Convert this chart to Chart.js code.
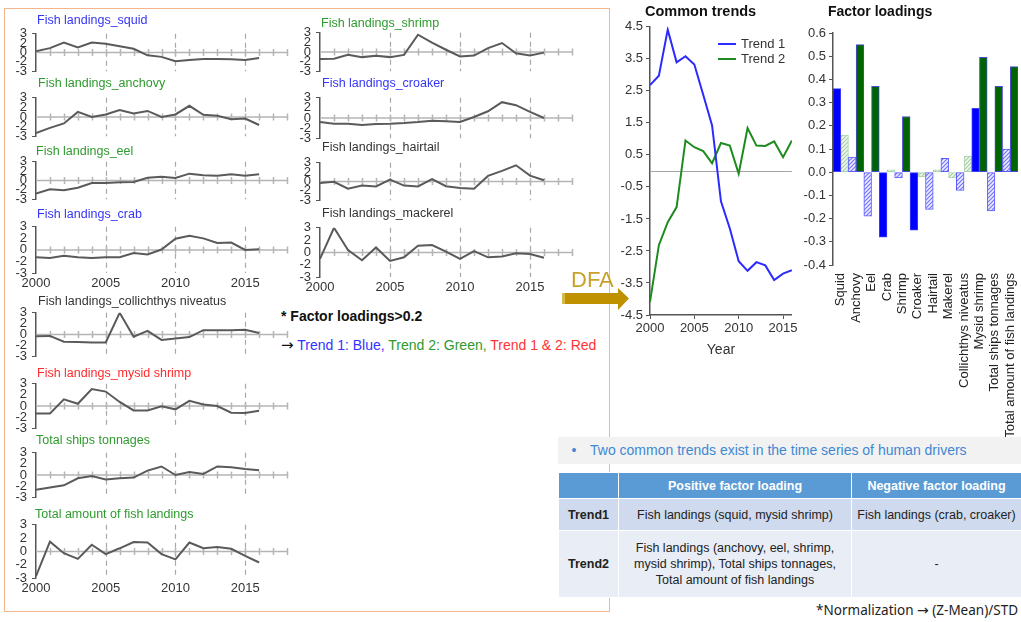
<!DOCTYPE html>
<html>
<head>
<meta charset="utf-8">
<script src="https://cdn.jsdelivr.net/npm/chart.js@4.4.1/dist/chart.umd.min.js"></script>
<style>
  html, body { margin: 0; padding: 0; background: #fff; }
  #stage { position: relative; width: 1021px; height: 622px; overflow: hidden;
           font-family: "Liberation Sans", Arial, sans-serif; color: #222; }
  #stage canvas { position: absolute; z-index: 1; }
  .frame { position: absolute; left: 4px; top: 8px; width: 606px; height: 604px;
           border: 1.5px solid #f5b58c; box-sizing: border-box; z-index: 0; }
  .ptitle { position: absolute; font-size: 12.5px; line-height: 14px; white-space: nowrap; z-index: 3; }
  .htitle { position: absolute; font-weight: bold; white-space: nowrap; color: #111; z-index: 3; }
  .note1 { position: absolute; left: 281px; top: 308px; font-size: 14px; font-weight: bold; color: #111; white-space: nowrap; }
  .note2 { position: absolute; left: 281px; top: 336px; font-size: 14px; white-space: nowrap; }
  .arr { font-family: "DejaVu Sans", sans-serif; font-size: 15px; }
  .legend { position: absolute; left: 718px; top: 36px; font-size: 13px; color: #333; z-index: 3; line-height: 15px; }
  .legend div { display: flex; align-items: center; height: 15px; }
  .legend i { display: inline-block; width: 18px; height: 2px; margin-right: 5px; }
  #banner { position: absolute; left: 558px; top: 437px; width: 463px; height: 27px; background: #f2f2f2;
            color: #3f88d2; font-size: 14px; line-height: 27px; white-space: nowrap; z-index: 4; }
  #banner .dot { display: inline-block; width: 32px; text-align: center; }
  #tbl { position: absolute; left: 558px; top: 472px; width: 463px; border-collapse: collapse;
         table-layout: fixed; z-index: 4; font-size: 12.5px; }
  #tbl td, #tbl th { border: 1.5px solid #fff; text-align: center; padding: 0; }
  #tbl .hd th { background: #5b9bd5; color: #fff; font-weight: bold; font-size: 12.5px; height: 25px; }
  #tbl .r1 td { background: #cfdaee; height: 31px; }
  #tbl .r2 td { background: #e8edf6; height: 66px; line-height: 16px; }
  #tbl .b { font-weight: bold; }
  .norm { position: absolute; right: 3px; top: 601px; font-family: "Noto Sans", sans-serif; font-size: 13.5px;
          color: #222; white-space: nowrap; z-index: 4; }
  .dfa { position: absolute; left: 571px; top: 267px; font-size: 22px; color: #c9a02a; z-index: 5; }
  .arrow { position: absolute; left: 0; top: 0; z-index: 5; }
</style>
</head>
<body>
<div id="stage">
  <div class="frame"></div>

  <div class="htitle" style="left:645px;top:3px;font-size:14.5px;">Common trends</div>
  <div class="htitle" style="left:828px;top:3px;font-size:14px;">Factor loadings</div>

  <div class="legend">
    <div><i style="background:#2b2bff"></i>Trend 1</div>
    <div><i style="background:#1f8a1f"></i>Trend 2</div>
  </div>

  <div class="note1">* Factor loadings&gt;0.2</div>
  <div class="note2"><span class="arr" style="color:#111">&rarr;</span> <span style="color:#3333ff">Trend 1: Blue,</span> <span style="color:#2e9a2e">Trend 2: Green,</span> <span style="color:#ff3333">Trend 1 &amp; 2: Red</span></div>

  <div class="dfa">DFA</div>
  <svg class="arrow" width="1021" height="622">
    <polygon points="562,293 618,293 618,288 629,298.5 618,310 618,304 562,304" fill="#bf9000"/>
    <rect x="562" y="293" width="3" height="11" fill="#d8b84a"/>
  </svg>

  <div id="banner"><span class="dot">&bull;</span>Two common trends exist in the time series of human drivers</div>
  <table id="tbl">
    <colgroup><col style="width:60px"><col style="width:233px"><col style="width:170px"></colgroup>
    <tr class="hd"><th></th><th>Positive factor loading</th><th>Negative factor loading</th></tr>
    <tr class="r1"><td class="b">Trend1</td><td>Fish landings (squid, mysid shrimp)</td><td>Fish landings (crab, croaker)</td></tr>
    <tr class="r2"><td class="b">Trend2</td><td>Fish landings (anchovy, eel, shrimp,<br>mysid shrimp), Total ships tonnages,<br>Total amount of fish landings</td><td>-</td></tr>
  </table>
  <div class="norm">*Normalization <span class="arr" style="font-size:14px">&rarr;</span> (Z-Mean)/STD</div>
</div>

<script>
// ---- data: normalised annual series, 2000-2016 ----
const years = [2000, 2001, 2002, 2003, 2004, 2005, 2006, 2007, 2008, 2009, 2010, 2011, 2012, 2013, 2014, 2015, 2016];

const squid         = [0.2, 0.7, 1.6, 0.8, 1.6, 1.4, 1.0, 0.6, -0.45, -0.7, -1.4, -1.2, -1.05, -1.05, -1.1, -1.2, -0.9];
const anchovy       = [-2.5, -1.7, -1.0, 0.8, 0.0, 0.4, 1.1, 0.55, 0.95, 0.0, 0.4, 1.75, 0.35, 0.2, -0.35, -0.25, -1.25];
const eel           = [-2.1, -1.4, -1.55, -1.15, -0.4, -0.4, -0.3, -0.25, 0.45, 0.6, 0.4, 1.1, 0.85, 0.75, 1.0, 0.75, 1.0];
const crab          = [-0.95, -1.05, -0.75, -0.95, -1.05, -0.95, -0.95, -0.4, -0.6, 0.05, 1.45, 1.85, 1.5, 0.9, 0.95, 0.0, 0.1];
const collichthys   = [-0.25, -0.2, -1.0, -1.05, -1.1, -1.1, 3.0, -0.3, 0.5, -0.75, -0.55, -0.35, 0.6, 0.6, 0.6, 0.65, 0.2];
const mysidShrimp   = [-1.0, -1.0, 0.9, 0.3, 2.3, 1.95, 0.55, -0.6, -0.6, -0.05, -0.45, 0.7, 0.2, 0.0, -0.9, -0.95, -0.65];
const shipsTonnage  = [-2.0, -1.7, -1.4, -0.45, -0.15, -0.6, -0.45, -0.35, 0.6, 1.15, 0.0, 0.4, 0.15, 1.15, 1.05, 0.8, 0.65];
const totalLandings = [-2.8, 1.1, -0.2, -0.85, 0.75, -0.3, 0.35, 1.05, 1.0, -0.3, -0.9, 1.0, 0.35, 0.5, 0.3, -0.5, -1.25];
const shrimp        = [-1.1, -1.05, -0.45, -0.8, -0.6, -0.8, -0.45, 2.7, 1.45, 0.35, -0.7, -0.55, 0.6, 1.4, -0.2, -0.55, -0.1];
const croaker       = [-0.6, -0.85, -0.85, -1.05, -0.9, -0.85, -0.75, -0.6, -0.4, -0.5, -0.6, 0.15, 1.0, 2.35, 1.9, 0.9, 0.0];
const hairtail      = [-0.25, -0.05, -1.15, -0.65, -0.8, 0.3, -0.65, -0.8, 0.4, -0.75, -1.05, -1.15, 0.9, 1.7, 2.6, 0.95, 0.2];
const mackerel      = [-0.8, 3.0, 0.3, -0.95, 0.6, -1.05, -0.6, 0.8, 0.9, 0.1, -0.8, 0.15, -0.6, -0.5, -0.1, -0.2, -0.65];

// DFA common trends
const trend1 = [2.68, 2.97, 4.41, 3.39, 3.58, 3.32, 2.38, 1.42, -0.95, -1.8, -2.82, -3.12, -2.85, -2.95, -3.41, -3.21, -3.1];
const trend2 = [-4.09, -2.32, -1.6, -1.13, 0.95, 0.74, 0.62, 0.24, 0.87, 0.79, -0.09, 1.34, 0.79, 0.78, 0.92, 0.43, 0.95];

// factor loadings
const loadingCategories = ['Squid', 'Anchovy', 'Eel', 'Crab', 'Shrimp', 'Croaker', 'Hairtail', 'Makerel',
                           'Collichthys niveatus', 'Mysid shrimp', 'Total ships tonnages', 'Total amount of fish landings'];
const loadingTrend1 = [0.36, 0.065, -0.19, -0.28, -0.025, -0.25, -0.16, 0.06, -0.078, 0.275, -0.167, 0.10];
const loadingTrend2 = [0.16, 0.55, 0.37, 0.01, 0.24, -0.02, 0.01, -0.025, 0.07, 0.495, 0.37, 0.455];
const loadingThreshold = 0.2;

// tick values and labels
const panelYTicks = [-3, -1.5, 0, 1.5, 3];
const panelYTickLabels = ['-3', '-2', '0', '2', '3'];
const panelXTicks = [2000, 2005, 2010, 2015];
const yearTickLabels = ['2000', '2005', '2010', '2015'];
const trendYTicks = [-4.5, -3.5, -2.5, -1.5, -0.5, 0.5, 1.5, 2.5, 3.5, 4.5];
const loadingYTicks = [-0.4, -0.3, -0.2, -0.1, 0.0, 0.1, 0.2, 0.3, 0.4, 0.5, 0.6];

// ---- helpers ----
Chart.defaults.font.family = '"Liberation Sans", Arial, sans-serif';
Chart.defaults.animation = false;
const stage = document.getElementById('stage');

function makeCanvas(left, top, w, h) {
  const cv = document.createElement('canvas');
  cv.width = w; cv.height = h;
  cv.style.left = left + 'px'; cv.style.top = top + 'px';
  cv.style.width = w + 'px'; cv.style.height = h + 'px';
  stage.appendChild(cv);
  return cv;
}

// dashed year guides, light zero line and a small tick at every year
const panelGuides = {
  id: 'panelGuides',
  beforeDatasetsDraw(chart) {
    const { ctx, chartArea: a, scales: { x, y } } = chart;
    const y0 = y.getPixelForValue(0);
    ctx.save();
    ctx.strokeStyle = '#a8a8a8';
    ctx.lineWidth = 1.2;
    ctx.setLineDash([5, 4]);
    for (const v of panelXTicks) {
      if (v <= 2000) continue;
      const px = Math.round(x.getPixelForValue(v)) + 0.5;
      ctx.beginPath();
      ctx.moveTo(px, a.top);
      ctx.lineTo(px, a.bottom);
      ctx.stroke();
    }
    ctx.setLineDash([]);
    ctx.strokeStyle = '#b5b5b5';
    ctx.lineWidth = 1.5;
    ctx.beginPath();
    ctx.moveTo(a.left, y0); ctx.lineTo(a.right, y0);
    for (let v = 2001; v <= 2018; v++) {
      const px = Math.round(x.getPixelForValue(v)) + 0.5;
      ctx.moveTo(px, y0 - 3.5); ctx.lineTo(px, y0 + 3.5);
    }
    ctx.stroke();
    ctx.restore();
  }
};

const PAD_T = 8, PAD_B = 8, YW = 36, XH = 20;

function addPanel(p) {
  const h = (p.bottom - p.top) + PAD_T + (p.years ? XH : PAD_B);
  const cv = makeCanvas(p.left, p.top - PAD_T, p.width, h);
  new Chart(cv, {
    type: 'line',
    data: { datasets: [{ data: years.map((yr, i) => ({ x: yr, y: p.series[i] })),
                         borderColor: '#5a5a5a', borderWidth: 2, pointRadius: 0, tension: 0 }] },
    options: {
      responsive: false, events: [],
      layout: { padding: { top: PAD_T, bottom: p.years ? 0 : PAD_B, left: 0, right: 3 } },
      plugins: { legend: { display: false }, tooltip: { enabled: false } },
      scales: {
        x: {
          type: 'linear', min: 2000, max: 2018,
          afterBuildTicks: s => { s.ticks = panelXTicks.map(v => ({ value: v })); },
          ticks: { display: !!p.years, autoSkip: false, maxRotation: 0, padding: 3,
                   font: { size: 13 }, color: '#333',
                   callback: v => yearTickLabels[panelXTicks.indexOf(v)] },
          grid: { display: false, drawTicks: false },
          border: { display: false },
          afterFit: s => { s.height = p.years ? XH : 0; }
        },
        y: {
          min: -3, max: 3,
          afterBuildTicks: s => { s.ticks = panelYTicks.map(v => ({ value: v })); },
          ticks: { font: { size: 13 }, color: '#333', padding: 5, autoSkip: false,
                   callback: v => panelYTickLabels[panelYTicks.indexOf(v)] },
          grid: { drawOnChartArea: false, drawTicks: true, tickLength: 4,
                  color: c => (c.tick && Math.abs(c.tick.value) === 3) ? '#555' : 'transparent' },
          border: { color: '#555', width: 1.5 },
          afterFit: s => { s.width = YW; }
        }
      }
    },
    plugins: [panelGuides]
  });
  const t = document.createElement('div');
  t.className = 'ptitle';
  t.textContent = p.title;
  t.style.color = p.color;
  t.style.left = p.tx + 'px';
  t.style.top = (p.ty - 7) + 'px';
  stage.appendChild(t);
}

const BLUE_T = '#3535f5', GREEN_T = '#2e9a2e', DARK_T = '#333333', RED_T = '#ff2b2b';

const panels = [
  { title: 'Fish landings_squid', color: BLUE_T, series: squid, left: 0, width: 290, top: 29, bottom: 76, tx: 37, ty: 20 },
  { title: 'Fish landings_anchovy', color: GREEN_T, series: anchovy, left: 0, width: 290, top: 93, bottom: 141, tx: 38, ty: 83 },
  { title: 'Fish landings_eel', color: GREEN_T, series: eel, left: 0, width: 290, top: 157, bottom: 204, tx: 36, ty: 151 },
  { title: 'Fish landings_crab', color: BLUE_T, series: crab, left: 0, width: 290, top: 222, bottom: 273, tx: 37, ty: 214, years: true },
  { title: 'Fish landings_collichthys niveatus', color: DARK_T, series: collichthys, left: 0, width: 290, top: 308, bottom: 361, tx: 38, ty: 301 },
  { title: 'Fish landings_mysid shrimp', color: RED_T, series: mysidShrimp, left: 0, width: 290, top: 379, bottom: 433, tx: 37, ty: 373 },
  { title: 'Total ships tonnages', color: GREEN_T, series: shipsTonnage, left: 0, width: 290, top: 448, bottom: 502, tx: 36, ty: 440 },
  { title: 'Total amount of fish landings', color: GREEN_T, series: totalLandings, left: 0, width: 290, top: 520, bottom: 578, tx: 35, ty: 514, years: true },
  { title: 'Fish landings_shrimp', color: GREEN_T, series: shrimp, left: 284, width: 291, top: 28, bottom: 76, tx: 321, ty: 23 },
  { title: 'Fish landings_croaker', color: BLUE_T, series: croaker, left: 284, width: 291, top: 93, bottom: 143, tx: 322, ty: 83 },
  { title: 'Fish landings_hairtail', color: DARK_T, series: hairtail, left: 284, width: 291, top: 158, bottom: 205, tx: 322, ty: 147 },
  { title: 'Fish landings_mackerel', color: DARK_T, series: mackerel, left: 284, width: 291, top: 223, bottom: 277, tx: 322, ty: 213, years: true }
];
panels.forEach(addPanel);

// ---- common trends ----
const baseline = {
  id: 'baseline',
  beforeDatasetsDraw(chart) {
    const { ctx, chartArea: a, scales: { y } } = chart;
    const y0 = Math.round(y.getPixelForValue(0)) + 0.5;
    ctx.save();
    ctx.strokeStyle = '#a6a6a6'; ctx.lineWidth = 1;
    ctx.beginPath(); ctx.moveTo(a.left, y0); ctx.lineTo(a.right, y0); ctx.stroke();
    ctx.restore();
  }
};

const trendCanvas = makeCanvas(600, 16, 200, 10 + 289 + 47);
new Chart(trendCanvas, {
  type: 'line',
  data: {
    datasets: [
      { label: 'Trend 1', data: years.map((yr, i) => ({ x: yr, y: trend1[i] })), borderColor: '#2b2bff', borderWidth: 2, pointRadius: 0, tension: 0 },
      { label: 'Trend 2', data: years.map((yr, i) => ({ x: yr, y: trend2[i] })), borderColor: '#1f8a1f', borderWidth: 2, pointRadius: 0, tension: 0 }
    ]
  },
  options: {
    responsive: false, events: [],
    layout: { padding: { top: 10, right: 8, bottom: 0, left: 0 } },
    plugins: { legend: { display: false }, tooltip: { enabled: false } },
    scales: {
      x: {
        type: 'linear', min: 2000, max: 2016,
        afterBuildTicks: s => { s.ticks = panelXTicks.map(v => ({ value: v })); },
        ticks: { font: { size: 13 }, color: '#333', padding: 2, maxRotation: 0, autoSkip: false,
                 callback: v => yearTickLabels[panelXTicks.indexOf(v)] },
        grid: { drawOnChartArea: false, tickLength: 4, color: '#555' },
        border: { color: '#555', width: 1.5 },
        title: { display: true, text: 'Year', font: { size: 14 }, color: '#333', padding: { top: 0, bottom: 3 } },
        afterFit: s => { s.height = 47; }
      },
      y: {
        min: -4.5, max: 4.5,
        afterBuildTicks: s => { s.ticks = trendYTicks.map(v => ({ value: v })); },
        ticks: { font: { size: 13 }, color: '#333', padding: 3, autoSkip: false, callback: v => v.toFixed(1) },
        grid: { drawOnChartArea: false, tickLength: 4, color: '#555' },
        border: { color: '#555', width: 1.5 },
        afterFit: s => { s.width = 50; }
      }
    }
  },
  plugins: [baseline]
});

// ---- factor loadings ----
function hatch(bg, fg) {
  const c = document.createElement('canvas');
  c.width = 4; c.height = 4;
  const g = c.getContext('2d');
  g.fillStyle = bg; g.fillRect(0, 0, 4, 4);
  g.strokeStyle = fg; g.lineWidth = 1.2;
  g.beginPath();
  g.moveTo(0, 4); g.lineTo(4, 0);
  g.moveTo(-1, 1); g.lineTo(1, -1);
  g.moveTo(3, 5); g.lineTo(5, 3);
  g.stroke();
  return g.createPattern(c, 'repeat');
}
const blueHatch = hatch('#eeeeff', '#7373ff');
const greenHatch = hatch('#f1f7f1', '#a6cfa6');

const strong = v => Math.abs(v) > loadingThreshold;

const loadCanvas = makeCanvas(790, 20, 231, 430);
new Chart(loadCanvas, {
  type: 'bar',
  data: {
    labels: loadingCategories,
    datasets: [
      { label: 'Trend 1', data: loadingTrend1,
        backgroundColor: c => strong(c.raw) ? '#0000ff' : blueHatch,
        borderColor: c => strong(c.raw) ? '#3d3dff' : '#5c5cff',
        borderWidth: 1, borderSkipped: false },
      { label: 'Trend 2', data: loadingTrend2,
        backgroundColor: c => strong(c.raw) ? '#006400' : greenHatch,
        borderColor: c => strong(c.raw) ? '#4b4bd0' : '#a9d3a9',
        borderWidth: 1, borderSkipped: false }
    ]
  },
  options: {
    responsive: false, events: [],
    categoryPercentage: 1, barPercentage: 1,
    layout: { padding: { top: 13, right: 3, bottom: 0, left: 0 } },
    plugins: { legend: { display: false }, tooltip: { enabled: false } },
    scales: {
      x: {
        ticks: { font: { size: 13 }, color: '#222', minRotation: 90, maxRotation: 90, autoSkip: false, padding: 8 },
        grid: { display: false, drawTicks: false },
        border: { display: false },
        afterFit: s => { s.height = 185; s.paddingLeft = 0; s.paddingRight = 0; }
      },
      y: {
        min: -0.4, max: 0.6,
        afterBuildTicks: s => { s.ticks = loadingYTicks.map(v => ({ value: v })); },
        ticks: { font: { size: 13 }, color: '#333', padding: 3, autoSkip: false, callback: v => v.toFixed(1) },
        grid: { drawOnChartArea: false, tickLength: 4, color: '#555' },
        border: { color: '#555', width: 1.5 },
        afterFit: s => { s.width = 43; }
      }
    }
  }
});
</script>
</body>
</html>
